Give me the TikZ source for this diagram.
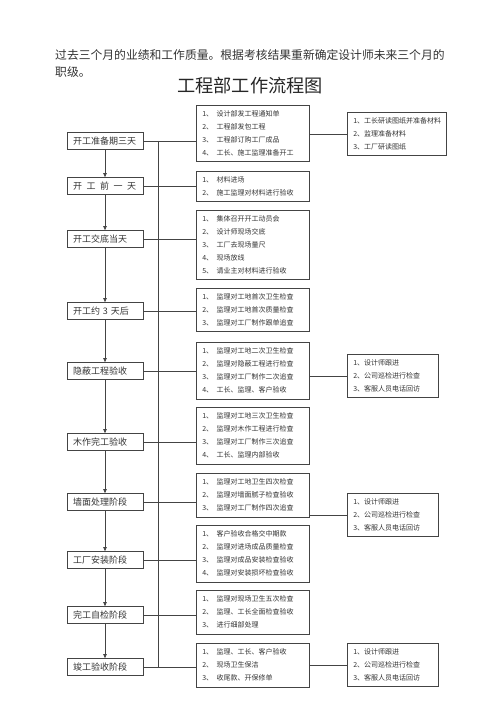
\documentclass[tikz,border=0pt]{standalone}
\usepackage{fontspec}
\usetikzlibrary{arrows.meta,positioning,calc}
\newfontfamily\cjk{Noto Sans CJK SC}
\definecolor{boxline}{HTML}{444444}
\definecolor{inktext}{HTML}{333333}

\begin{document}
\begin{tikzpicture}[x=1pt,y=-1pt,
  font=\cjk,
  stage/.style={draw=boxline,line width=.7pt,align=left,text width=64pt,inner xsep=6pt,
    minimum height=17pt,inner ysep=2pt,text=inktext,font=\cjk\fontsize{9}{11}\selectfont},
  task/.style={draw=boxline,line width=.7pt,align=left,text width=101pt,inner xsep=6pt,inner ysep=5.5pt,
    anchor=north west,text=inktext,font=\cjk\fontsize{7}{13}\selectfont},
  check/.style={draw=boxline,line width=.7pt,align=left,text width=79pt,inner xsep=6pt,inner ysep=5.5pt,
    anchor=north west,text=inktext,font=\cjk\fontsize{7}{13}\selectfont},
  flow/.style={-{Triangle[length=4pt,width=3.5pt]},draw=boxline,line width=.7pt},
  link/.style={draw=boxline,line width=.7pt}]
  \useasboundingbox (0,0) rectangle (500,708);
  % heading
  \node[anchor=north west,align=left,inner sep=0pt,text=inktext,font=\cjk\fontsize{11.8}{17}\selectfont] (intro) at (55,49)
    {过去三个月的业绩和工作质量。根据考核结果重新确定设计师未来三个月的\\职级。};
  \node[font=\cjk\fontsize{18.2}{20}\selectfont,text=black!85] (title) at (250,86) {工程部工作流程图};
  % stages
  \node[stage] (s1) at (105,141) {开工准备期三天};
  \node[stage] (s2) at (105,186) {开\enspace 工\enspace 前\enspace 一\enspace 天};
  \node[stage] (s3) at (105,239) {开工交底当天};
  \node[stage] (s4) at (105,311) {开工约 3 天后};
  \node[stage] (s5) at (105,371) {隐蔽工程验收};
  \node[stage] (s6) at (105,442) {木作完工验收};
  \node[stage] (s7) at (105,502) {墙面处理阶段};
  \node[stage] (s8) at (105,560) {工厂安装阶段};
  \node[stage] (s9) at (105,615) {完工自检阶段};
  \node[stage] (s10) at (105,667) {竣工验收阶段};
  % tasks
  \node[task] (m1) at (196,105)
    {1、\enspace 设计部发工程通知单\\2、\enspace 工程部发包工程\\3、\enspace 工程部订购工厂成品\\4、\enspace 工长、施工监理准备开工};
  \node[task] (m2) at (196,171)
    {1、\enspace 材料进场\\2、\enspace 施工监理对材料进行验收};
  \node[task] (m3) at (196,210)
    {1、\enspace 集体召开开工动员会\\2、\enspace 设计师现场交底\\3、\enspace 工厂去现场量尺\\4、\enspace 现场放线\\5、\enspace 请业主对材料进行验收};
  \node[task] (m4) at (196,288)
    {1、\enspace 监理对工地首次卫生检查\\2、\enspace 监理对工地首次质量检查\\3、\enspace 监理对工厂制作跟单追查};
  \node[task] (m5) at (196,342)
    {1、\enspace 监理对工地二次卫生检查\\2、\enspace 监理对隐蔽工程进行检查\\3、\enspace 监理对工厂制作二次追查\\4、\enspace 工长、监理、客户验收};
  \node[task] (m6) at (196,407)
    {1、\enspace 监理对工地三次卫生检查\\2、\enspace 监理对木作工程进行检查\\3、\enspace 监理对工厂制作三次追查\\4、\enspace 工长、监理内部验收};
  \node[task] (m7) at (196,473)
    {1、\enspace 监理对工地卫生四次检查\\2、\enspace 监理对墙面腻子检查验收\\3、\enspace 监理对工厂制作四次追查};
  \node[task] (m8) at (196,525)
    {1、\enspace 客户验收合格交中期款\\2、\enspace 监理对进场成品质量检查\\3、\enspace 监理对成品安装检查验收\\4、\enspace 监理对安装损坏检查验收};
  \node[task] (m9) at (196,590)
    {1、\enspace 监理对现场卫生五次检查\\2、\enspace 监理、工长全面检查验收\\3、\enspace 进行细部处理};
  \node[task] (m10) at (196,643)
    {1、\enspace 监理、工长、客户验收\\2、\enspace 现场卫生保洁\\3、\enspace 收尾款、开保修单};
  % follow-up checks
  \node[check,text width=87pt] (r1) at (347,112)
    {1、工长研读图纸并准备材料\\2、监理准备材料\\3、工厂研读图纸};
  \node[check] (r2) at (347,354)
    {1、设计师跟进\\2、公司巡检进行检查\\3、客服人员电话回访};
  \node[check] (r3) at (347,493)
    {1、设计师跟进\\2、公司巡检进行检查\\3、客服人员电话回访};
  \node[check] (r4) at (347,643)
    {1、设计师跟进\\2、公司巡检进行检查\\3、客服人员电话回访};
  % main flow
  \draw[flow] (s1) -- (s2);
  \draw[flow] (s2) -- (s3);
  \draw[flow] (s3) -- (s4);
  \draw[flow] (s4) -- (s5);
  \draw[flow] (s5) -- (s6);
  \draw[flow] (s6) -- (s7);
  \draw[flow] (s7) -- (s8);
  \draw[flow] (s8) -- (s9);
  \draw[flow] (s9) -- (s10);
  % bus and branches
  \coordinate (bus) at (158,0);
  \draw[link] (bus |- s1.east) -- (bus |- s10.east);
  \draw[link] (s1.east) -- (s1.east -| m1.west);
  \draw[link] (s2.east) -- (s2.east -| m2.west);
  \draw[link] (s3.east) -- (s3.east -| m3.west);
  \draw[link] (s4.east) -- (s4.east -| m4.west);
  \draw[link] (s5.east) -- (s5.east -| m5.west);
  \draw[link] (s6.east) -- (s6.east -| m6.west);
  \draw[link] (s7.east) -- (s7.east -| m7.west);
  \draw[link] (s8.east) -- (s8.east -| m8.west);
  \draw[link] (s9.east) -- (s9.east -| m9.west);
  \draw[link] (s10.east) -- (s10.east -| m10.west);
  \draw[link] (m1.east |- r1.west) -- (r1.west);
  \draw[link] (m5.east |- r2.west) -- (r2.west);
  \draw[link] (m7.east |- r3.west) -- (r3.west);
  \draw[link] (m10.east |- r4.west) -- (r4.west);
\end{tikzpicture}
\end{document}
